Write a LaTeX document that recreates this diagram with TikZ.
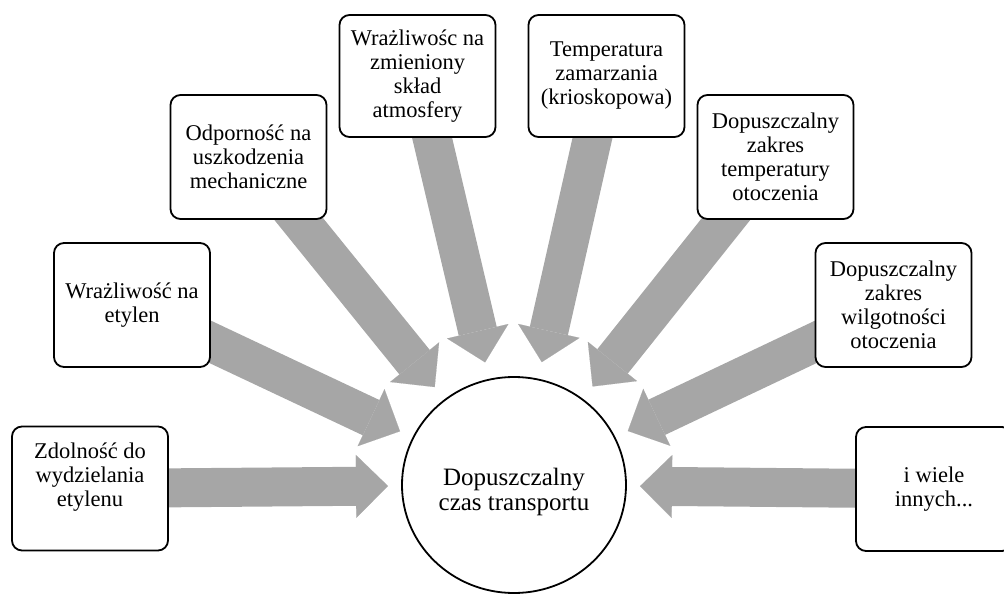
\documentclass[tikz,border=0pt]{standalone}
\usepackage{fontspec}
\setmainfont{Liberation Serif}
\usetikzlibrary{arrows.meta,calc,shapes.geometric}
\definecolor{arrowgray}{RGB}{166,166,166}
\pgfdeclarelayer{bg}
\pgfsetlayers{bg,main}
\begin{document}
\begin{tikzpicture}[x=1pt,y=-1pt,
  factor/.style={draw, line width=1.8pt, rounded corners=10pt, fill=white,
    minimum width=156pt, minimum height=124pt, align=center, inner sep=2pt,
    font=\fontsize{22.5}{24}\selectfont},
  bigarrow/.style={arrowgray, line width=39pt,
    -{Triangle[length=32pt,width=63pt,line width=0.1pt]}}]
\useasboundingbox (0,0) rectangle (1004,596);
\clip (0,0) rectangle (1004,596);
\node[ellipse, draw, line width=1.8pt, fill=white, minimum width=224pt, minimum height=216pt,
  label={[align=center, font=\fontsize{25}{25}\selectfont, yshift=-7pt]center:Dopuszczalny\\czas transportu}] (c) at (514,485) {};
\node[factor] (b1) at (90,488.5) {Zdolność do\\wydzielania\\etylenu\\[3pt]};
\node[factor] (b2) at (132,305) {Wrażliwość na\\etylen};
\node[factor] (b3) at (248.5,157) {Odporność na\\uszkodzenia\\mechaniczne};
\node[factor, minimum height=122pt] (b4) at (417.5,76) {Wrażliwośc na\\zmieniony\\skład\\atmosfery};
\node[factor, minimum height=122pt] (b5) at (606.5,76) {Temperatura\\zamarzania\\(krioskopowa)};
\node[factor] (b6) at (775.5,157) {Dopuszczalny\\zakres\\temperatury\\otoczenia};
\node[factor] (b7) at (893.5,305) {Dopuszczalny\\zakres\\wilgotności\\otoczenia};
\node[factor] (b8) at (934,489) {i wiele\\innych...};
\begin{pgfonlayer}{bg}
\foreach \b in {b1,b2,b3,b4,b5,b6,b7,b8}{
  \draw[bigarrow] (\b.center) -- ($(c.center)!126pt!(\b.center)$);
}
\end{pgfonlayer}
\end{tikzpicture}
\end{document}
